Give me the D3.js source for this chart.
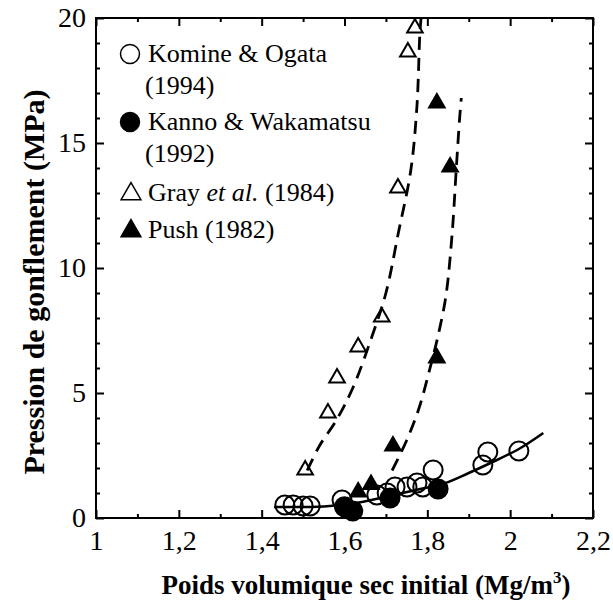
<!DOCTYPE html>
<html>
<head>
<meta charset="utf-8">
<script src="https://cdn.jsdelivr.net/npm/d3@7"></script>
<style>
    body { margin: 0; background: #fff; }
    svg { display: block; font-family: "Liberation Serif", "Times New Roman", serif; }
</style>
</head>
<body>
<svg id="chart" width="613" height="607"></svg>
<script>
// values: [dry density (Mg/m3), swelling pressure (MPa)]
const komine = [
    [1.456, 0.52], [1.476, 0.52], [1.50, 0.48], [1.517, 0.48], [1.594, 0.72],
    [1.678, 0.92], [1.703, 1.0], [1.722, 1.24], [1.751, 1.24], [1.775, 1.4],
    [1.789, 1.24], [1.814, 1.92], [1.934, 2.12], [1.946, 2.64], [2.021, 2.68]
];
const kanno = [[1.60, 0.45], [1.62, 0.28], [1.71, 0.8], [1.826, 1.16]];
const gray = [
    [1.505, 1.92], [1.56, 4.2], [1.582, 5.6], [1.633, 6.84], [1.69, 8.04],
    [1.729, 13.2], [1.753, 18.64], [1.77, 19.6]
];
const push = [[1.633, 1.04], [1.664, 1.34], [1.717, 2.88], [1.823, 6.4], [1.855, 14.04], [1.823, 16.6]];

// hand drawn trend curves
const komineCurve = [
    [1.43, 0.44], [1.55, 0.46], [1.62, 0.58], [1.70, 0.85], [1.78, 1.15],
    [1.84, 1.38], [1.90, 1.8], [1.95, 2.18], [2.02, 2.75], [2.08, 3.4]
];
const grayCurve = [
    [1.51, 1.9], [1.54, 2.9], [1.58, 3.9], [1.62, 5.2], [1.665, 7.2], [1.70, 9.0],
    [1.73, 11.4], [1.76, 13.9], [1.775, 16.5], [1.782, 19.4], [1.785, 20]
];
const pushCurve = [
    [1.715, 1.9], [1.75, 3.1], [1.78, 4.4], [1.805, 5.9], [1.826, 7.3], [1.845, 8.9],
    [1.86, 11.4], [1.87, 14.0], [1.878, 16.0], [1.882, 16.8]
];

const xTicks = [1, 1.2, 1.4, 1.6, 1.8, 2, 2.2];
const yTicks = [0, 5, 10, 15, 20];

const legendItems = [
    { type: "circle", filled: false, lines: ["Komine & Ogata", "(1994)"] },
    { type: "circle", filled: true, lines: ["Kanno & Wakamatsu", "(1992)"] },
    { type: "triangle", filled: false, lines: ["Gray |et al.| (1984)"] },
    { type: "triangle", filled: true, lines: ["Push (1982)"] }
];

const svg = d3.select("#chart");
const margin = { top: 18, right: 20, bottom: 89, left: 96 };
const width = 613 - margin.left - margin.right;
const height = 607 - margin.top - margin.bottom;

const chart = svg.append("g").attr("transform", `translate(${margin.left},${margin.top})`);

const x = d3.scaleLinear().domain([1, 2.2]).range([0, width]);
const y = d3.scaleLinear().domain([0, 20]).range([height, 0]);

const frLocale = d3.formatLocale({ decimal: ",", thousands: " ", grouping: [3], currency: ["", " €"] });
const fmt = frLocale.format("~g");

// ticks on every side, pointing inward
const xMinor = d3.range(1.1, 2.2, 0.2);
const yMinor = d3.range(0, 20, 1).filter(v => v % 5 !== 0);

function tickAxis(axisFn, scale, values, size) {
    return axisFn(scale).tickValues(values).tickSize(size).tickFormat("");
}

const axes = chart.append("g").attr("class", "axes");
axes.append("g").attr("transform", `translate(0,${height})`).call(tickAxis(d3.axisBottom, x, xTicks, -8));
axes.append("g").attr("transform", `translate(0,${height})`).call(tickAxis(d3.axisBottom, x, xMinor, -4));
axes.append("g").call(tickAxis(d3.axisTop, x, xTicks, -8));
axes.append("g").call(tickAxis(d3.axisTop, x, xMinor, -4));
axes.append("g").call(tickAxis(d3.axisLeft, y, yTicks, -8));
axes.append("g").call(tickAxis(d3.axisLeft, y, yMinor, -4));
axes.append("g").attr("transform", `translate(${width},0)`).call(tickAxis(d3.axisRight, y, yTicks, -8));
axes.append("g").attr("transform", `translate(${width},0)`).call(tickAxis(d3.axisRight, y, yMinor, -4));
axes.selectAll(".domain").remove();
axes.selectAll(".tick line").attr("stroke", "#000").attr("stroke-width", 2);

chart.append("rect")
    .attr("width", width)
    .attr("height", height)
    .attr("fill", "none")
    .attr("stroke", "#000")
    .attr("stroke-width", 2);

// tick labels
const xLabels = chart.append("g")
    .attr("transform", `translate(0,${height})`)
    .call(d3.axisBottom(x).tickValues(xTicks).tickSize(0).tickPadding(12).tickFormat(fmt));
const yLabels = chart.append("g")
    .call(d3.axisLeft(y).tickValues(yTicks).tickSize(0).tickPadding(10).tickFormat(fmt));
[xLabels, yLabels].forEach(g => {
    g.select(".domain").remove();
    g.selectAll("text").attr("font-size", 28).attr("fill", "#000")
        .attr("font-family", "Liberation Serif");
});

// curves
const line = d3.line().x(d => x(d[0])).y(d => y(d[1])).curve(d3.curveCatmullRom);

chart.append("path").datum(komineCurve)
    .attr("d", line).attr("fill", "none").attr("stroke", "#000").attr("stroke-width", 2.5);
[grayCurve, pushCurve].forEach(c => {
    chart.append("path").datum(c)
        .attr("d", line).attr("fill", "none").attr("stroke", "#000")
        .attr("stroke-width", 2.8).attr("stroke-dasharray", "13,8");
});

// markers
const triangle = d3.symbol().type(d3.symbolTriangle).size(105);

function drawCircles(data, filled) {
    chart.append("g").selectAll("circle").data(data).join("circle")
        .attr("cx", d => x(d[0]))
        .attr("cy", d => y(d[1]))
        .attr("r", 9.5)
        .attr("fill", filled ? "#000" : "none")
        .attr("stroke", "#000")
        .attr("stroke-width", 2);
}
function drawTriangles(data, filled) {
    chart.append("g").selectAll("path").data(data).join("path")
        .attr("d", triangle)
        .attr("transform", d => `translate(${x(d[0])},${y(d[1])})`)
        .attr("fill", filled ? "#000" : "none")
        .attr("stroke", "#000")
        .attr("stroke-width", 2)
        .attr("stroke-linejoin", "miter");
}
drawCircles(komine, false);
drawCircles(kanno, true);
drawTriangles(gray, false);
drawTriangles(push, true);

// legend
const legend = svg.append("g").attr("class", "legend");
const legendRows = [54, 122, 193, 230];
const legendTriangle = d3.symbol().type(d3.symbolTriangle).size(170);
legendItems.forEach((item, i) => {
    const cy = legendRows[i];
    if (item.type === "circle") {
        legend.append("circle").attr("cx", 130).attr("cy", cy).attr("r", 9.5)
            .attr("fill", item.filled ? "#000" : "none").attr("stroke", "#000").attr("stroke-width", 1.5);
    } else {
        legend.append("path").attr("d", legendTriangle)
            .attr("transform", `translate(131,${cy + 1})`)
            .attr("fill", item.filled ? "#000" : "none").attr("stroke", "#000").attr("stroke-width", 1.5);
    }
    item.lines.forEach((txt, j) => {
        const t = legend.append("text")
            .attr("x", j === 0 ? 148 : 145)
            .attr("y", cy + 8 + j * 32)
            .attr("font-size", 26);
        txt.split("|").forEach((part, k) => {
            t.append("tspan").attr("font-style", k === 1 ? "italic" : "normal").text(part);
        });
    });
});

// axis titles
const xTitle = svg.append("text")
    .attr("x", 366)
    .attr("y", 594)
    .attr("text-anchor", "middle")
    .attr("font-size", 27)
    .attr("font-weight", "bold");
xTitle.append("tspan").text("Poids volumique sec initial (Mg/m");
xTitle.append("tspan").attr("font-size", 17).attr("dy", -11).text("3");
xTitle.append("tspan").attr("dy", 11).text(")");

svg.append("text")
    .attr("transform", "translate(44,282) rotate(-90)")
    .attr("text-anchor", "middle")
    .attr("font-size", 30)
    .attr("font-weight", "bold")
    .text("Pression de gonflement (MPa)");
</script>
</body>
</html>
